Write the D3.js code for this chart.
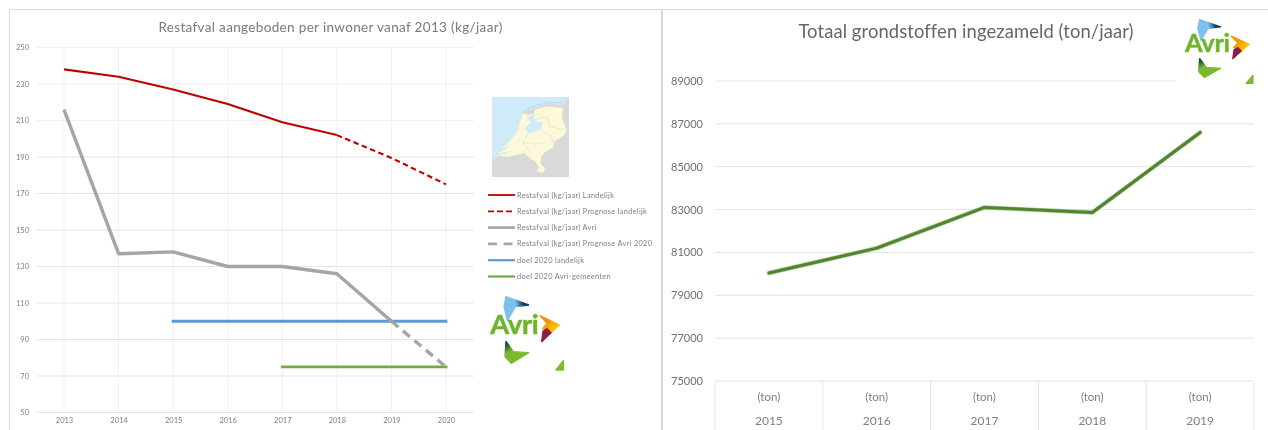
<!DOCTYPE html>
<html><head><meta charset="utf-8">
<script src="https://cdn.jsdelivr.net/npm/d3@7/dist/d3.min.js"></script>
<style>
html,body{margin:0;padding:0;background:#fff;overflow:hidden}
svg{display:block;filter:blur(0.45px)}
text{font-family:Lato,"Open Sans",sans-serif}
</style></head><body>
<svg id="c" width="1268" height="430"></svg>
<script>
// ---- data: left chart
const leftYears = [2013,2014,2015,2016,2017,2018,2019,2020];
const leftTicks = [50,70,90,110,130,150,170,190,210,230,250];
const landelijk = [238,234,227,219,209,202,null,null];
const prognoseLandelijk = [null,null,null,null,null,202,189.5,175];
const avri = [216,137,138,130,130,126,100,null];
const prognoseAvri = [null,null,null,null,null,null,100,75];
const doelLandelijk = [null,null,100,100,100,100,100,100];
const doelAvri = [null,null,null,null,75,75,75,75];
const leftTitle = "Restafval aangeboden per inwoner vanaf 2013 (kg/jaar)";
const legendNames = ["Restafval (kg/jaar) Landelijk","Restafval (kg/jaar) Prognose landelijk","Restafval (kg/jaar) Avri","Restafval (kg/jaar) Prognose Avri 2020","doel 2020 landelijk","doel 2020 Avri-gemeenten"];
// ---- data: right chart
const rightYears = [2015,2016,2017,2018,2019];
const rightUnit = "(ton)";
const rightTicks = [75000,77000,79000,81000,83000,85000,87000,89000];
const grondstoffen = [80040,81200,83100,82860,86600];
const rightTitle = "Totaal grondstoffen ingezameld (ton/jaar)";

const svg = d3.select("#c");
const GRID="#e4e4e4", TXT="#7f7f7f", FRAME="#d9d9d9";

// frames
svg.append("path").attr("d","M9.5 430V9.5H1268").attr("fill","none").attr("stroke",FRAME).attr("stroke-width",1);
svg.append("line").attr("x1",662).attr("x2",662).attr("y1",9).attr("y2",430).attr("stroke",FRAME).attr("stroke-width",2);

// ---------- left chart
const xL = d3.scalePoint().domain(leftYears).range([64,446]);
const yL = d3.scaleLinear().domain([50,250]).range([412.5,47.5]);
const L = svg.append("g");
L.append("g").selectAll("line").data(leftYears).join("line")
  .attr("x1",d=>xL(d)).attr("x2",d=>xL(d)).attr("y1",yL(250)).attr("y2",yL(50)).attr("stroke","#f1f1f1");
L.append("g").selectAll("line").data(leftTicks).join("line")
  .attr("x1",37).attr("x2",474).attr("y1",d=>yL(d)).attr("y2",d=>yL(d)).attr("stroke",d=>d>=210?"#f0f0f0":GRID);
const axL = L.append("g").attr("transform","translate(29,0)").call(d3.axisLeft(yL).tickValues(leftTicks).tickSize(0).tickPadding(0));
axL.select(".domain").remove();
axL.selectAll("text").attr("font-size",7.5).attr("fill",TXT).style("font-family","Lato");
const axLB = L.append("g").attr("transform","translate(0,418)").call(d3.axisBottom(xL).tickSize(0).tickPadding(0).tickFormat(d3.format("d")));
axLB.select(".domain").remove();
axLB.selectAll("text").attr("font-size",7.5).attr("fill",TXT).style("font-family","Lato");
L.append("text").attr("x",330.5).attr("y",32).attr("text-anchor","middle").attr("font-size",13.5).attr("letter-spacing",0.34).attr("fill","#7a7a7a").text(leftTitle);

const lineL = d3.line().defined(d=>d.v!==null).x(d=>xL(d.y)).y(d=>yL(d.v));
const leftSeries = [
 {vals:doelLandelijk,color:"#5b9bd5",w:2.8,dash:null,cap:"square"},
 {vals:doelAvri,color:"#70ad47",w:2.8,dash:null,cap:"square"},
 {vals:avri,color:"#a5a5a5",w:3.4,dash:null,cap:"butt"},
 {vals:prognoseAvri,color:"#a5a5a5",w:3.4,dash:"9 6",cap:"butt"},
 {vals:landelijk,color:"#c00000",w:2.1,dash:null,cap:"butt"},
 {vals:prognoseLandelijk,color:"#c00000",w:2.1,dash:"5.5 3.5",cap:"butt"}
];
L.append("g").selectAll("path").data(leftSeries).join("path")
  .attr("d",s=>lineL(s.vals.map((v,i)=>({y:leftYears[i],v}))))
  .attr("fill","none").attr("stroke",s=>s.color).attr("stroke-width",s=>s.w).attr("stroke-linecap",s=>s.cap)
  .attr("stroke-dasharray",s=>s.dash).attr("stroke-linejoin","round");

// legend
const legendStyle = [
 {c:"#c00000",w:1.8,d:null},{c:"#c00000",w:1.8,d:"6 3"},{c:"#a5a5a5",w:2.6,d:null},
 {c:"#a5a5a5",w:2.6,d:"9 6.5"},{c:"#5b9bd5",w:2.2,d:null},{c:"#70ad47",w:2.2,d:null}];
const yLeg = d3.scalePoint().domain(d3.range(6)).range([195,276.5]);
const leg = L.append("g").selectAll("g").data(legendNames).join("g").attr("transform",(d,i)=>`translate(0,${yLeg(i)})`);
leg.append("line").attr("x1",488).attr("x2",515).attr("stroke",(d,i)=>legendStyle[i].c)
  .attr("stroke-width",(d,i)=>legendStyle[i].w).attr("stroke-dasharray",(d,i)=>legendStyle[i].d);
leg.append("text").attr("x",517).attr("y",2.5).attr("font-size",7.4).attr("letter-spacing",0.3).attr("fill",TXT).text(d=>d);

// map (decorative picture, 3x local coordinates)
const map = svg.append("g").attr("transform","translate(488,93) scale(0.3333)");
map.append("rect").attr("x",12).attr("y",12).attr("width",231).attr("height",240).attr("fill","#d9d9d9");
map.append("path").attr("fill","#cfeaf8").attr("d","M12 12H243L225 36L180 32L140 46L105 58L92 110L65 145L35 172L26 196L12 198Z");
map.append("path").attr("fill","#fbf8dc").attr("stroke","#e8e4c0").attr("stroke-width",1.5)
  .attr("d","M140 50L175 40L226 44L222 72L236 112L226 130L198 146L196 164L170 178L160 192L158 212L172 226L164 240L146 236L152 222L140 204L128 198L110 180L60 192L30 188L36 172L65 144L90 110L100 70L106 60L118 66L138 62Z");
map.append("path").attr("fill","#cfeaf8").attr("d","M116 76L140 62L136 80L166 90L156 110L120 122L113 104L130 86Z");
map.append("path").attr("fill","#cfeaf8").attr("d","M34 170L62 160L58 166L36 178ZM30 182L60 176L56 181L32 186Z");
map.append("path").attr("fill","none").attr("stroke","#e5e1b8").attr("stroke-width",2).attr("d","M140 80L178 72L185 100L225 110M120 122L105 150L125 178M156 110L190 130L196 150M105 150L170 150");
map.append("path").attr("fill","none").attr("stroke","#9cc6dc").attr("stroke-width",1.5).attr("d","M105 56L135 40L175 30L225 28");

// logo (decorative picture, 3x local coordinates)
const defs = svg.append("defs");
function grad(id,a,b,x1,y1,x2,y2,o1,o2){
  const g=defs.append("linearGradient").attr("id",id).attr("x1",x1).attr("y1",y1).attr("x2",x2).attr("y2",y2);
  g.append("stop").attr("offset",o1).attr("stop-color",a);
  g.append("stop").attr("offset",o2).attr("stop-color",b);
}
grad("gB","#7cc1ee","#123f6b",0,0.6,1,0.4,0.5,0.8);
grad("gO","#f39200","#fcc200",0,0,1,1,0.35,0.75);
grad("gG","#13502e","#7cba2c",0,0,0.4,0.6,0.2,0.7);
function logo(tx,ty,sx,sy){
  const g=svg.append("g").attr("transform",`translate(${tx},${ty}) scale(${sx},${sy})`);
  g.selectAll("path.a").data([
    ["url(#gB)","M60 20L128 45L88 50L64 92L54 50Z"],
    ["url(#gO)","M162 77L220 105L195 128L170 116L183 100Z"],
    ["#8e1f42","M195 128L167 155L171 124L183 116Z"],
    ["url(#gG)","M60 154L82 185L128 188L76 220L57 200Z"],
    ["#7cba2c","M210 240L232 212V240Z"]
  ]).join("path").attr("class","a").attr("fill",d=>d[0]).attr("stroke",d=>d[0]).attr("stroke-width",4).attr("stroke-linejoin","round").attr("d",d=>d[1]);
  g.append("text").attr("x",13).attr("y",131).attr("font-size",82).attr("font-weight",700).attr("fill","#6fb52c").attr("stroke","#6fb52c").attr("stroke-width",1.5).style("font-family","Lato").attr("letter-spacing",-1).text("Avri");
}
logo(486,290,1/3,1/3);
logo(1181,13.8,0.31,0.29);

// ---------- right chart
const xR = d3.scaleBand().domain(rightYears).range([715,1254]);
const yR = d3.scaleLinear().domain([75000,89000]).range([381,81]);
const R = svg.append("g");
R.append("g").selectAll("line").data(rightTicks).join("line")
  .attr("x1",715).attr("x2",d=>d===89000?1175:1254).attr("y1",d=>yR(d)).attr("y2",d=>yR(d)).attr("stroke",GRID);
const axR = R.append("g").attr("transform","translate(703,0)").call(d3.axisLeft(yR).tickValues(rightTicks).tickSize(0).tickPadding(0).tickFormat(d3.format("d")));
axR.select(".domain").remove();
axR.selectAll("text").attr("font-size",11).attr("fill","#6f6f6f").style("font-family","Lato");
R.append("text").attr("x",966).attr("y",38).attr("text-anchor","middle").attr("font-size",18.4).attr("letter-spacing",0.1).attr("fill","#666").text(rightTitle);
// table axis
const edges = rightYears.map(d=>xR(d)).concat([xR.range()[1]]);
R.append("g").selectAll("line").data(edges).join("line").attr("x1",d=>d).attr("x2",d=>d).attr("y1",381).attr("y2",430).attr("stroke",GRID);
R.append("g").selectAll("text").data(rightYears).join("text").attr("x",d=>xR(d)+xR.bandwidth()/2).attr("y",400.5).attr("text-anchor","middle").attr("font-size",11.5).attr("fill",TXT).text(rightUnit);
R.append("g").selectAll("text").data(rightYears).join("text").attr("x",d=>xR(d)+xR.bandwidth()/2).attr("y",425).attr("text-anchor","middle").attr("font-size",12).attr("fill",TXT).text(d=>d);
const lineR = d3.line().x((d,i)=>xR(rightYears[i])+xR.bandwidth()/2).y(d=>yR(d));
R.append("path").attr("d",lineR(grondstoffen)).attr("fill","none").attr("stroke","#a9d18e").attr("stroke-width",4.4).attr("stroke-linecap","round").attr("stroke-linejoin","round");
R.append("path").attr("d",lineR(grondstoffen)).attr("fill","none").attr("stroke","#548235").attr("stroke-width",3).attr("stroke-linecap","round").attr("stroke-linejoin","round");
</script>
</body></html>
